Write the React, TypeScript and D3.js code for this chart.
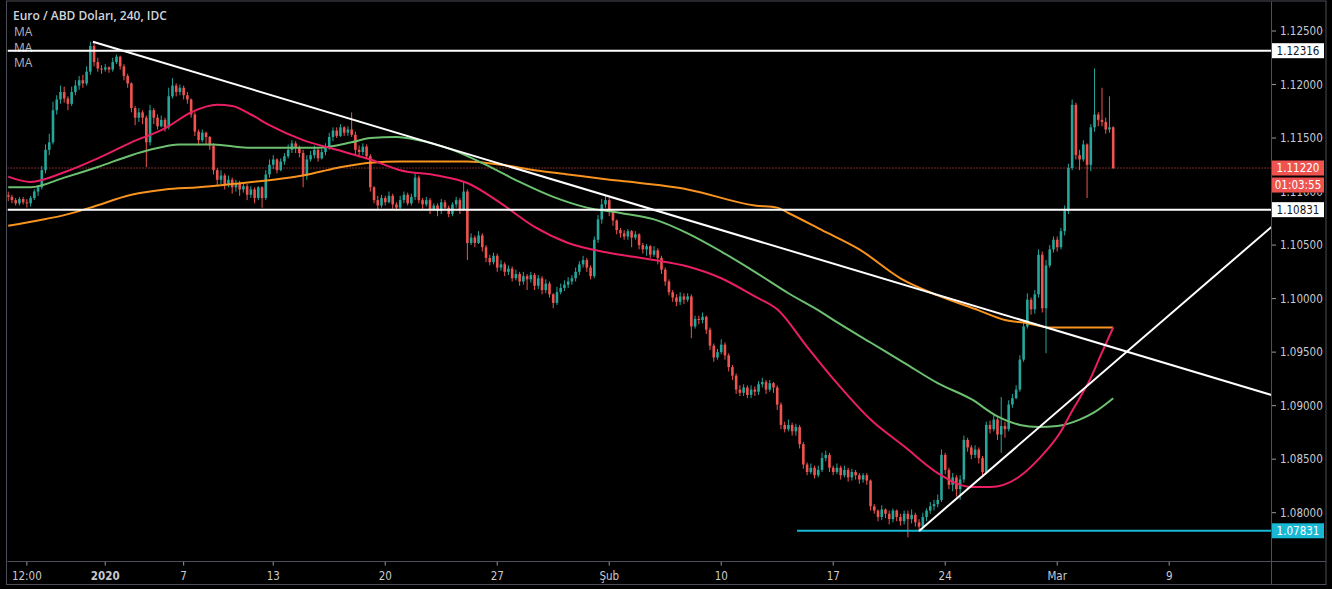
import React from "react";
import * as d3 from "d3";

// ---------- data (EUR/USD, 4h bars) ----------
const firstOpen = 1.1097;
const closes = [
  1.1095, 1.1092, 1.1089, 1.1093, 1.1090, 1.1089, 1.1094, 1.1100, 1.1104, 1.1120,
  1.1139, 1.1146, 1.1176, 1.1186, 1.1193, 1.1187, 1.1182, 1.1193, 1.1199, 1.1204,
  1.1201, 1.1212, 1.1236, 1.1221, 1.1215, 1.1214, 1.1216, 1.1214, 1.1221, 1.1226,
  1.1217, 1.1208, 1.1201, 1.1178, 1.1169, 1.1174, 1.1169, 1.1146, 1.1176, 1.1169,
  1.1161, 1.1167, 1.1160, 1.1189, 1.1199, 1.1193, 1.1197, 1.1190, 1.1186, 1.1172,
  1.1156, 1.1148, 1.1155, 1.1151, 1.1143, 1.1120, 1.1111, 1.1115, 1.1106, 1.1111,
  1.1104, 1.1108, 1.1102, 1.1105, 1.1097, 1.1102, 1.1094, 1.1104, 1.1094, 1.1116,
  1.1125, 1.1130, 1.1120, 1.1128, 1.1133, 1.1139, 1.1145, 1.1141, 1.1136, 1.1115,
  1.1130, 1.1134, 1.1139, 1.1131, 1.1137, 1.1142, 1.1151, 1.1157, 1.1152, 1.1160,
  1.1155, 1.1158, 1.1153, 1.1139, 1.1137, 1.1142, 1.1133, 1.1104, 1.1092, 1.1087,
  1.1094, 1.1090, 1.1096, 1.1088, 1.1085, 1.1092, 1.1097, 1.1089, 1.1095, 1.1113,
  1.1092, 1.1088, 1.1092, 1.1083, 1.1087, 1.1082, 1.1090, 1.1085, 1.1079, 1.1088,
  1.1092, 1.1083, 1.1100, 1.1052, 1.1057, 1.1052, 1.1059, 1.1048, 1.1038, 1.1034,
  1.1040, 1.1029, 1.1032, 1.1025, 1.1028, 1.1019, 1.1023, 1.1016, 1.1021, 1.1018,
  1.1022, 1.1012, 1.1019, 1.1008, 1.1014, 1.1004, 1.0996, 1.1006, 1.1010, 1.1013,
  1.1016, 1.1019, 1.1025, 1.1032, 1.1036, 1.1029, 1.1021, 1.1055, 1.1074, 1.1088,
  1.1092, 1.1082, 1.1073, 1.1064, 1.1061, 1.1058, 1.1063, 1.1057, 1.1060, 1.1050,
  1.1046, 1.1049, 1.1041, 1.1045, 1.1038, 1.1027, 1.1016, 1.1006, 1.1001, 1.0997,
  1.1002, 1.0999, 1.1002, 1.0974, 1.0981, 1.0980, 1.0983, 1.0971, 1.0956, 1.0945,
  1.0950, 1.0957, 1.0947, 1.0936, 1.0928, 1.0915, 1.0912, 1.0917, 1.0910, 1.0915,
  1.0913, 1.0920, 1.0922, 1.0915, 1.0921, 1.0917, 1.0901, 1.0882, 1.0878, 1.0882,
  1.0876, 1.0880, 1.0864, 1.0845, 1.0838, 1.0842, 1.0835, 1.0840, 1.0851, 1.0854,
  1.0842, 1.0838, 1.0842, 1.0835, 1.0840, 1.0833, 1.0838, 1.0835, 1.0831, 1.0835,
  1.0830, 1.0806, 1.0802, 1.0796, 1.0803, 1.0799, 1.0794, 1.0802, 1.0796, 1.0792,
  1.0799, 1.0794, 1.0798, 1.0791, 1.0787, 1.0796, 1.0802, 1.0806, 1.0808, 1.0812,
  1.0854, 1.0840, 1.0826, 1.0833, 1.0822, 1.0831, 1.0868, 1.0861, 1.0854, 1.0859,
  1.0851, 1.0838, 1.0882, 1.0878, 1.0887, 1.0873, 1.0881, 1.0878, 1.0901, 1.0907,
  1.0915, 1.0943, 1.0974, 1.0999, 1.0990, 1.1004, 1.1041, 1.0991, 1.1031, 1.1046,
  1.1055, 1.1048, 1.1063, 1.1082, 1.1122, 1.1181, 1.1134, 1.1130, 1.1144, 1.1125,
  1.1160, 1.1172, 1.1167, 1.1165, 1.1158, 1.1160, 1.1122,
];
const highs = [
  1.1100, 1.1097, 1.1094, 1.1095, 1.1095, 1.1093, 1.1096, 1.1102, 1.1106, 1.1124,
  1.1144, 1.1154, 1.1184, 1.1190, 1.1199, 1.1198, 1.1189, 1.1198, 1.1204, 1.1208,
  1.1209, 1.1217, 1.1240, 1.1239, 1.1225, 1.1218, 1.1219, 1.1217, 1.1225, 1.1228,
  1.1227, 1.1219, 1.1210, 1.1202, 1.1180, 1.1178, 1.1176, 1.1171, 1.1181, 1.1178,
  1.1172, 1.1171, 1.1169, 1.1197, 1.1206, 1.1201, 1.1200, 1.1199, 1.1193, 1.1187,
  1.1174, 1.1158, 1.1158, 1.1156, 1.1152, 1.1145, 1.1122, 1.1120, 1.1117, 1.1115,
  1.1113, 1.1111, 1.1110, 1.1109, 1.1107, 1.1105, 1.1104, 1.1105, 1.1105, 1.1120,
  1.1130, 1.1134, 1.1131, 1.1131, 1.1136, 1.1144, 1.1148, 1.1147, 1.1143, 1.1139,
  1.1134, 1.1138, 1.1143, 1.1141, 1.1140, 1.1145, 1.1155, 1.1160, 1.1160, 1.1163,
  1.1161, 1.1161, 1.1174, 1.1156, 1.1143, 1.1145, 1.1144, 1.1135, 1.1105, 1.1096,
  1.1097, 1.1096, 1.1100, 1.1098, 1.1090, 1.1096, 1.1100, 1.1099, 1.1098, 1.1117,
  1.1115, 1.1094, 1.1095, 1.1094, 1.1089, 1.1089, 1.1093, 1.1092, 1.1087, 1.1090,
  1.1095, 1.1094, 1.1109, 1.1102, 1.1061, 1.1059, 1.1063, 1.1061, 1.1050, 1.1041,
  1.1043, 1.1042, 1.1036, 1.1034, 1.1031, 1.1030, 1.1027, 1.1025, 1.1025, 1.1023,
  1.1025, 1.1024, 1.1022, 1.1021, 1.1018, 1.1016, 1.1005, 1.1011, 1.1014, 1.1017,
  1.1020, 1.1022, 1.1029, 1.1035, 1.1040, 1.1038, 1.1031, 1.1058, 1.1078, 1.1093,
  1.1096, 1.1094, 1.1083, 1.1074, 1.1066, 1.1064, 1.1065, 1.1064, 1.1063, 1.1061,
  1.1052, 1.1051, 1.1050, 1.1049, 1.1047, 1.1040, 1.1029, 1.1018, 1.1008, 1.1004,
  1.1006, 1.1005, 1.1005, 1.1004, 1.0984, 1.0984, 1.0987, 1.0984, 1.0973, 1.0958,
  1.0953, 1.0962, 1.0959, 1.0949, 1.0938, 1.0930, 1.0919, 1.0920, 1.0919, 1.0919,
  1.0918, 1.0923, 1.0926, 1.0924, 1.0924, 1.0922, 1.0919, 1.0903, 1.0885, 1.0887,
  1.0884, 1.0883, 1.0882, 1.0866, 1.0847, 1.0846, 1.0844, 1.0844, 1.0856, 1.0858,
  1.0856, 1.0844, 1.0846, 1.0844, 1.0844, 1.0842, 1.0841, 1.0840, 1.0837, 1.0837,
  1.0837, 1.0831, 1.0808, 1.0803, 1.0807, 1.0804, 1.0802, 1.0804, 1.0803, 1.0799,
  1.0802, 1.0802, 1.0803, 1.0800, 1.0794, 1.0800, 1.0804, 1.0810, 1.0812, 1.0817,
  1.0859, 1.0856, 1.0842, 1.0837, 1.0835, 1.0835, 1.0872, 1.0870, 1.0863, 1.0863,
  1.0861, 1.0853, 1.0885, 1.0886, 1.0891, 1.0889, 1.0908, 1.0885, 1.0905, 1.0911,
  1.0919, 1.0947, 1.0980, 1.1005, 1.1001, 1.1008, 1.1046, 1.1044, 1.1036, 1.1050,
  1.1058, 1.1058, 1.1066, 1.1087, 1.1126, 1.1186, 1.1183, 1.1139, 1.1148, 1.1145,
  1.1163, 1.1215, 1.1174, 1.1197, 1.1169, 1.1189, 1.1161,
];
const lows = [
  1.1091, 1.1089, 1.1087, 1.1087, 1.1088, 1.1085, 1.1086, 1.1092, 1.1096, 1.1102,
  1.1117, 1.1134, 1.1144, 1.1172, 1.1182, 1.1183, 1.1176, 1.1180, 1.1190, 1.1195,
  1.1197, 1.1199, 1.1209, 1.1217, 1.1212, 1.1210, 1.1212, 1.1211, 1.1212, 1.1219,
  1.1214, 1.1204, 1.1197, 1.1174, 1.1162, 1.1165, 1.1163, 1.1123, 1.1143, 1.1163,
  1.1158, 1.1160, 1.1156, 1.1158, 1.1187, 1.1189, 1.1190, 1.1186, 1.1182, 1.1169,
  1.1152, 1.1143, 1.1146, 1.1144, 1.1139, 1.1116, 1.1105, 1.1107, 1.1102, 1.1104,
  1.1098, 1.1100, 1.1096, 1.1099, 1.1092, 1.1094, 1.1089, 1.1092, 1.1085, 1.1092,
  1.1113, 1.1121, 1.1117, 1.1119, 1.1125, 1.1131, 1.1136, 1.1136, 1.1132, 1.1104,
  1.1111, 1.1128, 1.1131, 1.1128, 1.1130, 1.1134, 1.1139, 1.1147, 1.1150, 1.1151,
  1.1152, 1.1152, 1.1151, 1.1135, 1.1132, 1.1134, 1.1131, 1.1100, 1.1089, 1.1083,
  1.1085, 1.1087, 1.1089, 1.1084, 1.1082, 1.1083, 1.1089, 1.1087, 1.1087, 1.1092,
  1.1089, 1.1084, 1.1086, 1.1079, 1.1082, 1.1077, 1.1079, 1.1082, 1.1076, 1.1077,
  1.1085, 1.1079, 1.1082, 1.1036, 1.1050, 1.1048, 1.1051, 1.1044, 1.1034, 1.1031,
  1.1032, 1.1025, 1.1026, 1.1021, 1.1022, 1.1016, 1.1017, 1.1012, 1.1013, 1.1008,
  1.1015, 1.1008, 1.1009, 1.1004, 1.1005, 1.1001, 1.0991, 1.0994, 1.1004, 1.1007,
  1.1010, 1.1013, 1.1016, 1.1022, 1.1029, 1.1025, 1.1018, 1.1019, 1.1052, 1.1070,
  1.1085, 1.1077, 1.1068, 1.1060, 1.1057, 1.1055, 1.1055, 1.1048, 1.1055, 1.1046,
  1.1042, 1.1040, 1.1038, 1.1039, 1.1032, 1.1023, 1.1012, 1.1003, 1.0997, 1.0993,
  1.0994, 1.0995, 1.0997, 1.0963, 1.0972, 1.0976, 1.0977, 1.0967, 1.0952, 1.0941,
  1.0943, 1.0948, 1.0943, 1.0932, 1.0924, 1.0911, 1.0909, 1.0909, 1.0907, 1.0907,
  1.0909, 1.0910, 1.0917, 1.0911, 1.0913, 1.0912, 1.0896, 1.0878, 1.0875, 1.0876,
  1.0872, 1.0872, 1.0860, 1.0841, 1.0835, 1.0836, 1.0832, 1.0833, 1.0838, 1.0848,
  1.0838, 1.0835, 1.0836, 1.0831, 1.0833, 1.0829, 1.0830, 1.0831, 1.0827, 1.0828,
  1.0826, 1.0802, 1.0799, 1.0792, 1.0793, 1.0795, 1.0789, 1.0791, 1.0792, 1.0788,
  1.0789, 1.0777, 1.0790, 1.0787, 1.0782, 1.0784, 1.0792, 1.0799, 1.0802, 1.0805,
  1.0810, 1.0836, 1.0822, 1.0820, 1.0815, 1.0812, 1.0828, 1.0857, 1.0850, 1.0851,
  1.0846, 1.0834, 1.0837, 1.0874, 1.0876, 1.0868, 1.0856, 1.0870, 1.0876, 1.0898,
  1.0906, 1.0913, 1.0941, 1.0972, 1.0985, 1.0986, 1.1001, 1.0987, 1.0949, 1.1029,
  1.1043, 1.1044, 1.1046, 1.1059, 1.1079, 1.1120, 1.1130, 1.1120, 1.1128, 1.1094,
  1.1119, 1.1156, 1.1161, 1.1161, 1.1154, 1.1155, 1.1121,
];

// moving averages, read as [bar, price]
const maFast: [number, number][] = [
  [0, 1.1114], [6, 1.1109], [15, 1.1118], [24, 1.1131], [33, 1.1146], [42, 1.1159],
  [49, 1.1174], [56, 1.1181], [60, 1.118], [65, 1.1172], [70, 1.1162], [79, 1.1148],
  [88, 1.1139], [97, 1.113], [105, 1.112], [115, 1.1115], [123, 1.1108], [132, 1.1089],
  [141, 1.1067], [150, 1.1052], [159, 1.1044], [164, 1.1041], [173, 1.1036], [182, 1.103],
  [191, 1.1019], [200, 1.1002], [206, 1.099], [214, 1.0955], [222, 1.0921], [231, 1.0887],
  [240, 1.0862], [249, 1.0837], [258, 1.0824], [263, 1.0824], [271, 1.0834], [276, 1.085],
  [282, 1.0876], [284.5, 1.0892], [287, 1.0907], [290, 1.0926], [292.5, 1.0946], [296, 1.0973],
];
const maMid: [number, number][] = [
  [0, 1.1104], [6, 1.1104], [15, 1.1113], [24, 1.1123], [33, 1.1134], [38, 1.1139],
  [46, 1.1144], [55, 1.1144], [64, 1.1141], [72, 1.1141], [83, 1.1141], [92, 1.1146],
  [97, 1.115], [104, 1.1151], [110, 1.1148], [119, 1.1139], [128, 1.1125], [137, 1.1109],
  [146, 1.1095], [155, 1.1085], [164, 1.108], [173, 1.1074], [182, 1.1061], [191, 1.1044],
  [200, 1.1025], [209, 1.1005], [218, 1.0987], [222, 1.0978], [231, 1.0959], [240, 1.094],
  [249, 1.0921], [258, 1.0906], [265, 1.089], [271, 1.0882], [276, 1.088], [281, 1.0881],
  [287, 1.0887], [291, 1.0894], [296, 1.0907],
];
const maSlow: [number, number][] = [
  [0, 1.1068], [8, 1.1073], [15, 1.1078], [22, 1.1085], [33, 1.1097], [42, 1.1102],
  [51, 1.1104], [60, 1.1107], [73, 1.1112], [79, 1.1115], [88, 1.1122], [97, 1.1127],
  [105, 1.1128], [115, 1.1128], [123, 1.1128], [132, 1.1125], [141, 1.112], [150, 1.1116],
  [159, 1.1112], [164, 1.111], [182, 1.1102], [200, 1.1087], [206, 1.1085], [209, 1.108],
  [218, 1.1064], [228, 1.1046], [239, 1.1019], [249, 1.1003], [260, 1.0989], [267, 1.098],
  [273, 1.0977], [279, 1.0973], [296, 1.0973],
];

// drawings
const downTrend: [number, number][] = [[22.7, 1.124], [338.4, 1.091]];
const upTrend: [number, number][] = [[244, 1.0783], [338.4, 1.1067]];
const whiteLevels = [1.12316, 1.10831];
const supportLevel = 1.07831;
const supportStartBar = 211.3;
const lastPrice = 1.1122;
const countdown = "01:03:55";

// axes
const priceTicks = [1.08, 1.085, 1.09, 1.095, 1.1, 1.105, 1.11, 1.115, 1.12, 1.125];
const timeTickBars = [5, 26, 47, 71, 101, 131, 161, 191, 221, 251, 281, 311];
const timeTickLabels = ["12:00", "2020", "7", "13", "20", "27", "Şub", "10", "17", "24", "Mar", "9"];
const boldTimeLabels = ["2020"];
const legendTitle = "Euro / ABD Doları, 240, IDC";
const legendItems = ["MA", "MA", "MA"];

const W = 1332;
const H = 589;
const UP = "#26a69a";
const DOWN = "#ef5350";
const AXIS_FONT = "'Liberation Sans Narrow', 'DejaVu Sans Condensed', Roboto, sans-serif";

export default function App() {
  const plotL = 7.5, plotR = 1271.5, plotT = 1.5, plotB = 561.5;
  const x = d3.scaleLinear().domain([0, 296]).range([8.2, 1113.2]);
  const y = d3.scaleLinear().domain([1.08, 1.125]).range([512.7, 31]);
  const bw = 2.6;

  const ptLine = d3
    .line<[number, number]>()
    .x((d) => x(d[0]))
    .y((d) => y(d[1]))
    .curve(d3.curveMonotoneX);
  const straight = d3
    .line<[number, number]>()
    .x((d) => x(d[0]))
    .y((d) => y(d[1]));

  const candles = closes.map((c, i) => {
    const o = i === 0 ? firstOpen : closes[i - 1];
    const hi = Math.max(highs[i], o, c);
    const lo = Math.min(lows[i], o, c);
    const col = c >= o ? UP : DOWN;
    const cx = x(i);
    const top = y(Math.max(o, c));
    const bot = y(Math.min(o, c));
    return (
      <g key={i}>
        <line x1={cx} x2={cx} y1={y(hi)} y2={y(lo)} stroke={col} strokeWidth={1} />
        <rect x={cx - bw / 2} y={top} width={bw} height={Math.max(1, bot - top)} fill={col} />
      </g>
    );
  });

  const labelBox = (price: number, text: string, bg: string, fg: string, key: string, yy?: number) => {
    const cy = yy ?? y(price);
    return (
      <g key={key}>
        <rect x={1272} y={cy - 7.5} width={52} height={15} fill={bg} />
        <text x={1298} y={cy + 4} textAnchor="middle" fontSize={11.5} fill={fg} fontFamily={AXIS_FONT}>
          {text}
        </text>
      </g>
    );
  };

  // the 1.11000 tick label sits behind the countdown box: show only its visible sliver
  const countdownY = y(lastPrice) + 17;

  return (
    <svg
      width={W}
      height={H}
      style={{ position: "fixed", left: 0, top: 0, background: "#000" }}
    >
      <rect x={0} y={0} width={W} height={H} fill="#000" />
      <defs>
        <clipPath id="plot">
          <rect x={plotL} y={plotT} width={plotR - plotL} height={plotB - plotT} />
        </clipPath>
        <clipPath id="under-countdown">
          <rect x={plotR} y={countdownY + 7.5} width={60} height={10} />
        </clipPath>
      </defs>

      {/* legend */}
      <text x={13} y={20} fontSize={12} fontWeight={600} fill="#d1d4dc" fontFamily="'Open Sans', 'Noto Sans', sans-serif">
        {legendTitle}
      </text>
      {legendItems.map((t, k) => (
        <text key={k} x={14} y={36 + k * 15.5} fontSize={12} fill="#b2b5be" fontFamily="'Open Sans', 'Noto Sans', sans-serif">
          {t}
        </text>
      ))}

      <g clipPath="url(#plot)">
        {/* last price dotted line */}
        <line x1={plotL} x2={plotR} y1={y(lastPrice)} y2={y(lastPrice)} stroke={DOWN} strokeWidth={1} strokeDasharray="1 2" />
        {candles}
        <path d={ptLine(maSlow) ?? ""} fill="none" stroke="#f7931e" strokeWidth={2} />
        <path d={ptLine(maMid) ?? ""} fill="none" stroke="#6cc070" strokeWidth={2} />
        <path d={ptLine(maFast) ?? ""} fill="none" stroke="#e91e63" strokeWidth={2} />
        {whiteLevels.map((p, k) => (
          <line key={k} x1={plotL} x2={plotR} y1={y(p)} y2={y(p)} stroke="#ffffff" strokeWidth={2} />
        ))}
        <line x1={x(supportStartBar)} x2={plotR} y1={y(supportLevel)} y2={y(supportLevel)} stroke="#18b8d4" strokeWidth={2} />
        <path d={straight(downTrend) ?? ""} fill="none" stroke="#ffffff" strokeWidth={2} />
        <path d={straight(upTrend) ?? ""} fill="none" stroke="#ffffff" strokeWidth={2} />
      </g>

      {/* price axis */}
      {priceTicks.map((p) => {
        const hidden = Math.abs(y(p) - countdownY) < 9;
        return (
          <g key={p}>
            <line x1={plotR} x2={plotR + 4.5} y1={y(p)} y2={y(p)} stroke="#9598a1" strokeWidth={1} />
            <text
              x={1280}
              y={y(p) + 4}
              fontSize={11.5}
              fill="#c8cad0"
              fontFamily={AXIS_FONT}
              clipPath={hidden ? "url(#under-countdown)" : undefined}
            >
              {p.toFixed(5)}
            </text>
          </g>
        );
      })}
      {labelBox(whiteLevels[0], whiteLevels[0].toFixed(5), "#ffffff", "#131722", "l1")}
      {labelBox(whiteLevels[1], whiteLevels[1].toFixed(5), "#ffffff", "#131722", "l2")}
      {labelBox(lastPrice, lastPrice.toFixed(5), DOWN, "#ffffff", "l3")}
      {labelBox(lastPrice, countdown, DOWN, "#ffffff", "l4", countdownY)}
      {labelBox(supportLevel, supportLevel.toFixed(5), "#18b8d4", "#ffffff", "l5")}

      {/* time axis */}
      {timeTickBars.map((b, k) => (
        <g key={b}>
          <line x1={x(b)} x2={x(b)} y1={plotB} y2={plotB + 4} stroke="#9598a1" strokeWidth={1} />
          <text
            x={x(b)}
            y={580}
            textAnchor="middle"
            fontSize={11.5}
            fontWeight={boldTimeLabels.includes(timeTickLabels[k]) ? 700 : 400}
            fill="#c8cad0"
            fontFamily={AXIS_FONT}
          >
            {timeTickLabels[k]}
          </text>
        </g>
      ))}

      {/* frame */}
      <rect x={plotL - 1} y={plotT - 0.5} width={1326 - plotL + 1} height={585 - plotT} fill="none" stroke="#4c4f57" strokeWidth={1} />
      <line x1={plotR} x2={plotR} y1={plotT} y2={585} stroke="#4c4f57" strokeWidth={1} />
      <line x1={plotL} x2={1326} y1={plotB} y2={plotB} stroke="#4c4f57" strokeWidth={1} />
    </svg>
  );
}
